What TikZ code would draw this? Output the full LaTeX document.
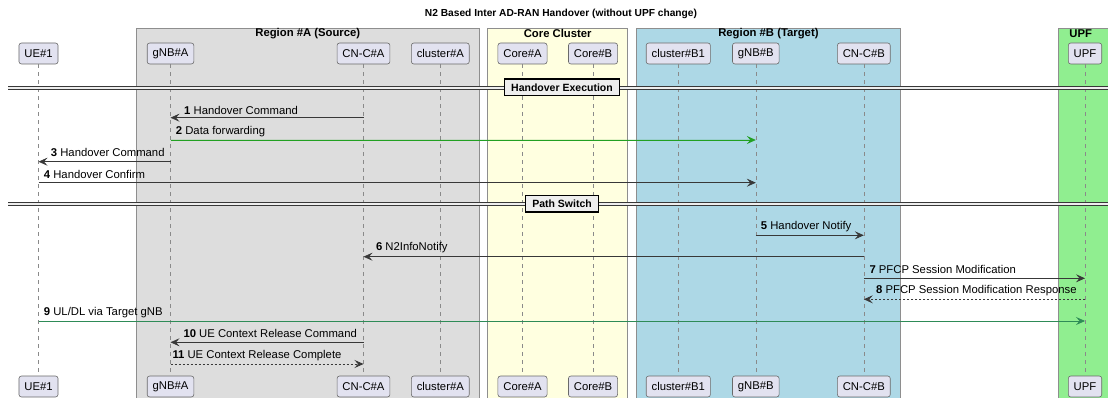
\documentclass[tikz,border=0pt]{standalone}
\usepackage{fontspec}
\setmainfont{Liberation Sans}
\usetikzlibrary{arrows.meta}
\definecolor{partfill}{HTML}{E2E2F0}
\definecolor{partline}{HTML}{6A6A6A}
\definecolor{lifecol}{HTML}{8A8A8A}
\definecolor{msgcol}{HTML}{383838}
\definecolor{regA}{HTML}{DDDDDD}
\definecolor{regCore}{HTML}{FFFFE0}
\definecolor{regB}{HTML}{ADD8E6}
\definecolor{regUPF}{HTML}{90EE90}
\definecolor{grpline}{HTML}{8E8E8E}
\definecolor{fwdgreen}{HTML}{22A022}
\definecolor{seagreen}{HTML}{2E8B57}
\definecolor{divfill}{HTML}{EEEEEE}
\begin{document}
\begin{tikzpicture}[x=1pt,y=-1pt,
  txt/.style={font=\fontsize{11.3}{13}\selectfont},
  part/.style={txt, draw=partline, fill=partfill, rounded corners=2.5pt,
    line width=0.6pt, minimum height=21pt, inner xsep=5.4pt, inner ysep=0pt},
  grp/.style={draw=grpline, line width=0.7pt},
  grptitle/.style={font=\fontsize{11.3}{13}\selectfont\bfseries, inner sep=0pt},
  life/.style={draw=lifecol, line width=0.5pt, dash pattern=on 4pt off 4pt},
  msg/.style={draw=msgcol, line width=0.7pt,
    -{Stealth[length=9pt,width=8pt,inset=3.5pt]}},
  reply/.style={msg, dash pattern=on 2pt off 2pt},
  lbl/.style={txt, anchor=west, inner sep=0pt},
  divbox/.style={draw=black, fill=divfill, line width=1.3pt,
    font=\fontsize{10.5}{12}\selectfont\bfseries, inner xsep=6.5pt,
    inner ysep=0pt, minimum height=16.7pt},
]
\useasboundingbox (0,0) rectangle (1108,398);
\fill[white] (0,0) rectangle (1108,398);

% diagram title
\node[font=\fontsize{10.2}{12}\selectfont\bfseries, inner sep=0pt] (title) at (561,14.3)
  {N2 Based Inter AD-RAN Handover (without UPF change)};

% participant groups
\path[grp, fill=regA]    (136.3,28.3) rectangle (479.3,399);
\path[grp, fill=regCore] (487.7,28.3) rectangle (627.7,399);
\path[grp, fill=regB]    (636,28.3)   rectangle (900.7,399);
\path[grp, fill=regUPF]  (1058.3,28.3) rectangle (1110,399);
\node[grptitle] (tA)    at (307.8,33.3)  {Region \#A (Source)};
\node[grptitle] (tCore) at (557.7,33.3)  {Core Cluster};
\node[grptitle] (tB)    at (768.4,33.3)  {Region \#B (Target)};
\node[grptitle] (tUPF)  at (1080.7,33.3) {UPF};

% participants, head and foot
\foreach \n/\x/\t in {ue/38.5/UE\#1, gnba/170.5/gNB\#A, cnca/363.5/CN-C\#A,
    clA/440.3/cluster\#A, coreA/522.5/Core\#A, coreB/593/Core\#B,
    clB/678.3/cluster\#B1, gnbb/755.8/gNB\#B, cncb/863.8/CN-C\#B,
    upf/1085/UPF}{
  \node[part] (\n-t) at (\x,53.5) {\t};
  \node[part] (\n-b) at (\x,386.5) {\t};
  \draw[life] (\n-t) -- (\n-b);
}

% separators
\foreach \nm/\y/\t in {exec/87.5/Handover Execution, switch/203.6/Path Switch}{
  \fill[divfill] (8,\y-1.5) rectangle (1108,\y+1.5);
  \draw[msgcol, line width=0.8pt] (8,\y-1.5) -- (1108,\y-1.5)
                                  (8,\y+1.5) -- (1108,\y+1.5);
  \node[divbox] (\nm) at (562,\y) {\t};
}

% messages
\draw[msg] (cnca-t |- 0,117.7) -- (gnba-t |- 0,117.7);
\node[lbl] (l1) at (184,110) {\textbf{1} Handover Command};

\draw[msg, draw=fwdgreen, fill=fwdgreen] (gnba-t |- 0,140) -- (gnbb-t |- 0,140);
\node[lbl] (l2) at (175.7,132) {\textbf{2} Data forwarding};

\draw[msg] (gnba-t |- 0,161.7) -- (ue-t |- 0,161.7);
\node[lbl] (l3) at (50.7,152.7) {\textbf{3} Handover Command};

\draw[msg] (ue-t |- 0,182.7) -- (gnbb-t |- 0,182.7);
\node[lbl] (l4) at (43.7,174) {\textbf{4} Handover Confirm};

\draw[msg] (gnbb-t |- 0,235.3) -- (cncb-t |- 0,235.3);
\node[lbl] (l5) at (760.7,226.7) {\textbf{5} Handover Notify};

\draw[msg] (cncb-t |- 0,256.7) -- (cnca-t |- 0,256.7);
\node[lbl] (l6) at (375.8,248) {\textbf{6} N2InfoNotify};

\draw[msg] (cncb-t |- 0,278.3) -- (upf-t |- 0,278.3);
\node[lbl] (l7) at (869.3,269.3) {\textbf{7} PFCP Session Modification};

\draw[reply] (upf-t |- 0,299.3) -- (cncb-t |- 0,299.3);
\node[lbl] (l8) at (876,291) {\textbf{8} PFCP Session Modification Response};

\draw[msg, draw=seagreen, fill=seagreen] (ue-t |- 0,321) -- (upf-t |- 0,321);
\node[lbl] (l9) at (43.7,312.7) {\textbf{9} UL/DL via Target gNB};

\draw[msg] (cnca-t |- 0,342.3) -- (gnba-t |- 0,342.3);
\node[lbl] (l10) at (183.3,333.3) {\textbf{10} UE Context Release Command};

\draw[reply] (gnba-t |- 0,364) -- (cnca-t |- 0,364);
\node[lbl] (l11) at (172.3,355.7) {\textbf{11} UE Context Release Complete};
\end{tikzpicture}
\end{document}
